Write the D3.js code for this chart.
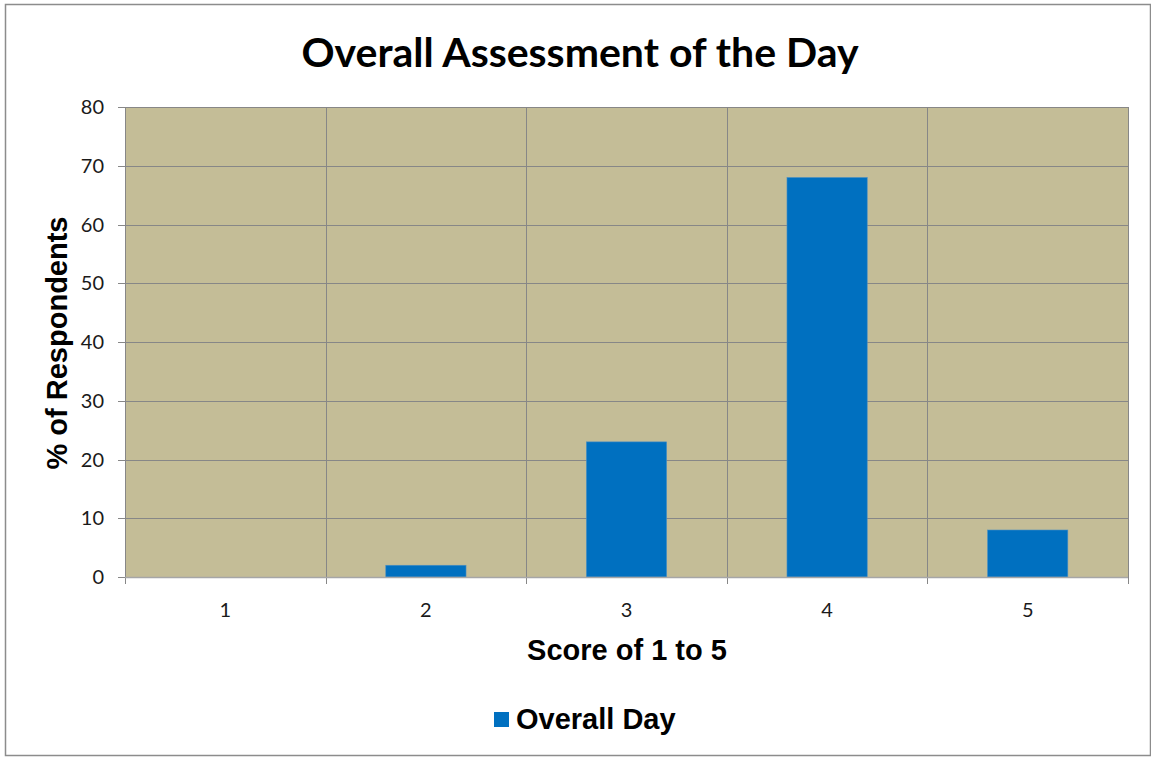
<!DOCTYPE html>
<html>
<head>
<meta charset="utf-8">
<script src="https://cdn.jsdelivr.net/npm/d3@7"></script>
<style>
  body { margin: 0; background: #fff; }
</style>
</head>
<body>
<div id="chart"></div>
<script>
// chart data
var scores = ['1', '2', '3', '4', '5'];
var overallDay = [0, 2, 23, 68, 8];
var yTicks = [0, 10, 20, 30, 40, 50, 60, 70, 80];

var width = 1151, height = 757;
var margin = {top: 107, right: 23, bottom: 180, left: 125};
var plotW = width - margin.left - margin.right;
var plotH = height - margin.top - margin.bottom;

var svg = d3.select('#chart').append('svg')
    .attr('width', width)
    .attr('height', height);

// outer frame
svg.append('rect')
    .attr('x', 5.5).attr('y', 4.5)
    .attr('width', 1145).attr('height', 751)
    .attr('fill', '#fff')
    .attr('stroke', '#8c8c8c')
    .attr('stroke-width', 1.5);

var x = d3.scaleBand()
    .domain(scores)
    .range([0, plotW])
    .paddingInner(0.6)
    .paddingOuter(0.3);

var y = d3.scaleLinear()
    .domain([0, 80])
    .range([plotH, 0]);

var g = svg.append('g')
    .attr('transform', 'translate(' + margin.left + ',' + margin.top + ')');

g.append('rect')
    .attr('width', plotW).attr('height', plotH)
    .attr('fill', '#c4bd97');

// horizontal grid
g.selectAll('.hgrid')
    .data(yTicks)
    .enter().append('line')
    .attr('x1', -7).attr('x2', plotW)
    .attr('y1', function (d) { return Math.round(y(d)) + 0.5; })
    .attr('y2', function (d) { return Math.round(y(d)) + 0.5; })
    .attr('stroke', '#878787')
    .attr('stroke-width', 1);

// vertical grid at category boundaries
var step = x.step();
var bounds = d3.range(scores.length + 1);
g.selectAll('.vgrid')
    .data(bounds)
    .enter().append('line')
    .attr('x1', function (i) { return Math.round(i * step) + 0.5; })
    .attr('x2', function (i) { return Math.round(i * step) + 0.5; })
    .attr('y1', 0).attr('y2', plotH + 7)
    .attr('stroke', '#878787')
    .attr('stroke-width', 1);

// bars
g.selectAll('.bar')
    .data(overallDay)
    .enter().append('rect')
    .attr('x', function (d, i) { return x(scores[i]); })
    .attr('y', function (d) { return y(d); })
    .attr('width', x.bandwidth())
    .attr('height', function (d) { return plotH - y(d); })
    .attr('fill', '#0070c0')
    .attr('stroke', '#4a8fc4')
    .attr('stroke-width', 0.6);

// bottom axis line
g.append('line')
    .attr('x1', 0).attr('x2', plotW)
    .attr('y1', plotH + 0.5).attr('y2', plotH + 0.5)
    .attr('stroke', '#a6a6a6').attr('stroke-width', 1.5);

// y tick labels
g.selectAll('.ylab')
    .data(yTicks)
    .enter().append('text')
    .attr('x', -21)
    .attr('y', function (d) { return y(d); })
    .attr('dy', '0.35em')
    .attr('text-anchor', 'end')
    .attr('font-family', 'Lato, "Open Sans", sans-serif')
    .attr('font-size', 20)
    .attr('fill', '#1a1a1a')
    .text(function (d) { return d; });

// x tick labels
g.selectAll('.xlab')
    .data(scores)
    .enter().append('text')
    .attr('x', function (d) { return x(d) + x.bandwidth() / 2; })
    .attr('y', plotH + 40)
    .attr('text-anchor', 'middle')
    .attr('font-family', 'Lato, "Open Sans", sans-serif')
    .attr('font-size', 20)
    .attr('fill', '#1a1a1a')
    .text(function (d) { return d; });

// title
svg.append('text')
    .attr('x', 580).attr('y', 67)
    .attr('text-anchor', 'middle')
    .attr('font-family', 'Lato, sans-serif')
    .attr('font-weight', 'bold')
    .attr('font-size', 41)
    .attr('fill', '#000')
    .text('Overall Assessment of the Day');

// axis titles
svg.append('text')
    .attr('x', 627).attr('y', 660)
    .attr('text-anchor', 'middle')
    .attr('font-family', '"Liberation Sans", Arial, sans-serif')
    .attr('font-weight', 'bold')
    .attr('font-size', 29)
    .text('Score of 1 to 5');

svg.append('text')
    .attr('transform', 'translate(67,343) rotate(-90)')
    .attr('text-anchor', 'middle')
    .attr('font-family', '"Liberation Sans", Arial, sans-serif')
    .attr('font-weight', 'bold')
    .attr('font-size', 29)
    .text('% of Respondents');

// legend
var legend = svg.append('g').attr('transform', 'translate(494,712)');
legend.append('rect')
    .attr('width', 15).attr('height', 15)
    .attr('fill', '#0070c0');
legend.append('text')
    .attr('x', 22).attr('y', 17)
    .attr('font-family', '"Liberation Sans", Arial, sans-serif')
    .attr('font-weight', 'bold')
    .attr('font-size', 29)
    .text('Overall Day');
</script>
</body>
</html>
